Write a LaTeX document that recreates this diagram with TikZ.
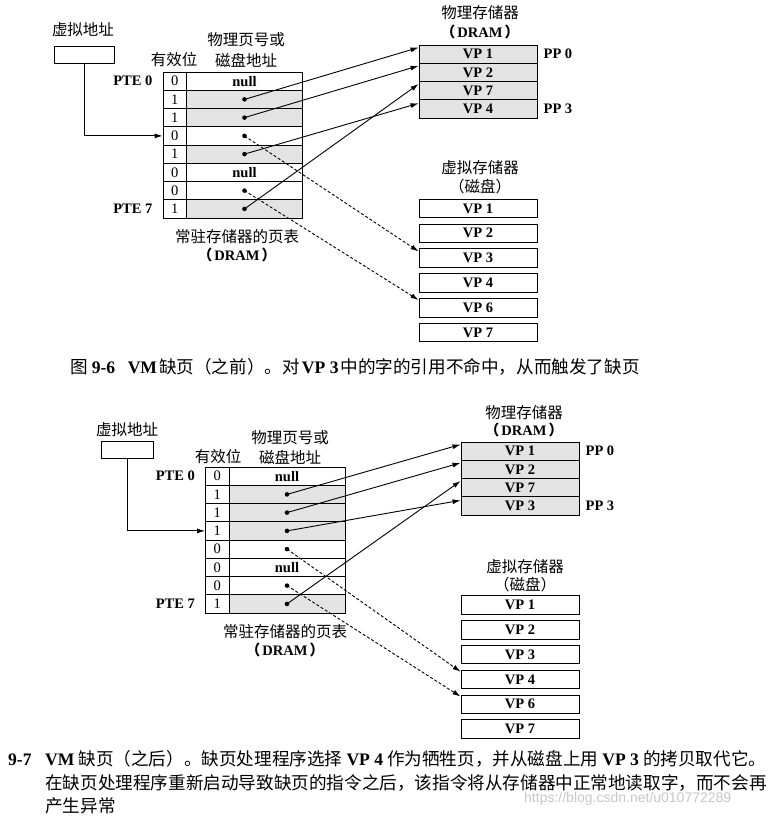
\documentclass[tikz,border=0pt]{standalone}
\usepackage{fontspec}
\setmainfont{Liberation Serif}
\newfontfamily\cjk{Noto Sans CJK SC}
\newfontfamily\wmark{Liberation Sans}
\usetikzlibrary{arrows.meta,positioning}

\newcommand\zh[1]{{\cjk #1}}
\newcommand\dram{\zh{（}\hspace{2pt}DRAM\hspace{2pt}\zh{）}}

\tikzset{
    >={Latex[length=8pt,width=5pt]},
    lbl/.style={inner sep=1pt, font=\cjk\fontsize{15.5}{17}\selectfont},
    lat/.style={inner sep=1pt, font=\bfseries\fontsize{14.5}{16}\selectfont},
    vabox/.style={draw, line width=0.9pt, minimum height=17pt},
    bitcell/.style={draw, line width=0.9pt, minimum width=23.5pt, minimum height=18.25pt, inner sep=0pt, font=\fontsize{14.5}{14.5}\selectfont},
    addrcell/.style={draw, line width=0.9pt, minimum width=116pt, minimum height=18.25pt, inner sep=0pt, font=\bfseries\fontsize{14.5}{14.5}\selectfont},
    pagebox/.style={draw, line width=0.9pt, minimum width=118pt, minimum height=18.25pt, inner sep=0pt, font=\bfseries\fontsize{14.5}{14.5}\selectfont},
    diskbox/.style={pagebox, minimum height=18.5pt},
    grayfill/.style={fill=black!11},
    ptr/.style={->, line width=0.9pt},
    diskptr/.style={ptr, dash pattern=on 3pt off 2pt},
    captext/.style={anchor=west, inner sep=0pt, font=\fontsize{17.6}{20}\selectfont}
}

\begin{document}
\begin{tikzpicture}[x=1pt, y=-1pt]
    \useasboundingbox (0,0) rectangle (768,820);

    % figure 9-6: before the fault
    \node[lbl] (aVAlbl) at (83,30) {虚拟地址};
    \node[vabox, minimum width=60pt] (aVA) at (84,54.5) {};

    \node[lbl] (aValid) at (174,60) {有效位};
    \node[lbl] (aAddr1) at (246,40) {物理页号或};
    \node[lbl] (aAddr2) at (246,60) {磁盘地址};

    \node[bitcell] (aV0) at (174.75,81.1) {0};
    \node[addrcell] (aA0) at (244.5,81.1) {null};
    \node[bitcell] (aV1) at (174.75,99.4) {1};
    \node[addrcell, grayfill] (aA1) at (244.5,99.4) {};
    \node[bitcell] (aV2) at (174.75,117.6) {1};
    \node[addrcell, grayfill] (aA2) at (244.5,117.6) {};
    \node[bitcell] (aV3) at (174.75,135.9) {0};
    \node[addrcell] (aA3) at (244.5,135.9) {};
    \node[bitcell] (aV4) at (174.75,154.1) {1};
    \node[addrcell, grayfill] (aA4) at (244.5,154.1) {};
    \node[bitcell] (aV5) at (174.75,172.4) {0};
    \node[addrcell] (aA5) at (244.5,172.4) {null};
    \node[bitcell] (aV6) at (174.75,190.6) {0};
    \node[addrcell] (aA6) at (244.5,190.6) {};
    \node[bitcell] (aV7) at (174.75,208.9) {1};
    \node[addrcell, grayfill] (aA7) at (244.5,208.9) {};

    \node[lat, left=9pt of aV0] (aPTE0) {PTE 0};
    \node[lat, left=9pt of aV7] (aPTE7) {PTE 7};
    \node[lbl] (aPT1) at (237,237) {常驻存储器的页表};
    \node[lat] (aPT2) at (237,255) {\dram};

    \node[lbl] (aMem1) at (480,13) {物理存储器};
    \node[lat] (aMem2) at (480,32) {\dram};
    \node[pagebox, grayfill] (aP0) at (478,54.1) {VP 1};
    \node[pagebox, grayfill] (aP1) at (478,72.4) {VP 2};
    \node[pagebox, grayfill] (aP2) at (478,90.6) {VP 7};
    \node[pagebox, grayfill] (aP3) at (478,108.9) {VP 4};
    \node[lat, right=5pt of aP0] (aPP0) {PP 0};
    \node[lat, right=5pt of aP3] (aPP3) {PP 3};

    \node[lbl] (aDisk1) at (480,168) {虚拟存储器};
    \node[lbl] (aDisk2) at (480,187) {（磁盘）};
    \node[diskbox] (aD1) at (478,208.5) {VP 1};
    \node[diskbox] (aD2) at (478,233.3) {VP 2};
    \node[diskbox] (aD3) at (478,258.1) {VP 3};
    \node[diskbox] (aD4) at (478,282.9) {VP 4};
    \node[diskbox] (aD6) at (478,307.7) {VP 6};
    \node[diskbox] (aD7) at (478,332.5) {VP 7};

    \draw[ptr] (aVA.south) |- (aV3.west);
    \fill (aA1.center) circle (2.3pt);
    \fill (aA2.center) circle (2.3pt);
    \fill (aA3.center) circle (2.3pt);
    \fill (aA4.center) circle (2.3pt);
    \fill (aA6.center) circle (2.3pt);
    \fill (aA7.center) circle (2.3pt);
    \draw[ptr] (aA1.center) -- ([yshift=-3pt]aP0.north west);
    \draw[ptr] (aA2.center) -- ([yshift=-3pt]aP1.north west);
    \draw[ptr] (aA7.center) -- ([yshift=-3pt]aP2.north west);
    \draw[ptr] (aA4.center) -- ([yshift=-4pt]aP3.north west);
    \draw[diskptr] (aA3.center) -- ([yshift=-3pt]aD3.north west);
    \draw[diskptr] (aA6.center) -- ([yshift=-2pt]aD6.north west);

    \node[captext] (capA) at (70,367) {\zh{图}\hspace{4pt}\makebox[36pt][l]{\textbf{9-6}}\textbf{VM}\hspace{2pt}\zh{缺页（之前）。对}\hspace{2pt}\textbf{VP 3}\hspace{2pt}\zh{中的字的引用不命中，从而触发了缺页}};

    % figure 9-7: after the fault
    \node[lbl] (bVAlbl) at (127,430) {虚拟地址};
    \node[vabox, minimum width=52pt] (bVA) at (127,449.5) {};

    \node[lbl] (bValid) at (218,457) {有效位};
    \node[lbl] (bAddr1) at (290,438) {物理页号或};
    \node[lbl] (bAddr2) at (290,457) {磁盘地址};

    \node[bitcell] (bV0) at (217.25,476.1) {0};
    \node[addrcell] (bA0) at (287,476.1) {null};
    \node[bitcell] (bV1) at (217.25,494.4) {1};
    \node[addrcell, grayfill] (bA1) at (287,494.4) {};
    \node[bitcell] (bV2) at (217.25,512.6) {1};
    \node[addrcell, grayfill] (bA2) at (287,512.6) {};
    \node[bitcell] (bV3) at (217.25,530.9) {1};
    \node[addrcell, grayfill] (bA3) at (287,530.9) {};
    \node[bitcell] (bV4) at (217.25,549.1) {0};
    \node[addrcell] (bA4) at (287,549.1) {};
    \node[bitcell] (bV5) at (217.25,567.4) {0};
    \node[addrcell] (bA5) at (287,567.4) {null};
    \node[bitcell] (bV6) at (217.25,585.6) {0};
    \node[addrcell] (bA6) at (287,585.6) {};
    \node[bitcell] (bV7) at (217.25,603.9) {1};
    \node[addrcell, grayfill] (bA7) at (287,603.9) {};

    \node[lat, left=9pt of bV0] (bPTE0) {PTE 0};
    \node[lat, left=9pt of bV7] (bPTE7) {PTE 7};
    \node[lbl] (bPT1) at (285,632) {常驻存储器的页表};
    \node[lat] (bPT2) at (285,650) {\dram};

    \node[lbl] (bMem1) at (524,413) {物理存储器};
    \node[lat] (bMem2) at (524,430) {\dram};
    \node[pagebox, grayfill] (bP0) at (520,451.1) {VP 1};
    \node[pagebox, grayfill] (bP1) at (520,469.4) {VP 2};
    \node[pagebox, grayfill] (bP2) at (520,487.6) {VP 7};
    \node[pagebox, grayfill] (bP3) at (520,505.9) {VP 3};
    \node[lat, right=5pt of bP0] (bPP0) {PP 0};
    \node[lat, right=5pt of bP3] (bPP3) {PP 3};

    \node[lbl] (bDisk1) at (525,567) {虚拟存储器};
    \node[lbl] (bDisk2) at (525,585) {（磁盘）};
    \node[diskbox] (bD1) at (520,605) {VP 1};
    \node[diskbox] (bD2) at (520,629.8) {VP 2};
    \node[diskbox] (bD3) at (520,654.6) {VP 3};
    \node[diskbox] (bD4) at (520,679.4) {VP 4};
    \node[diskbox] (bD6) at (520,704.2) {VP 6};
    \node[diskbox] (bD7) at (520,729) {VP 7};

    \draw[ptr] (bVA.south) |- (bV3.west);
    \fill (bA1.center) circle (2.3pt);
    \fill (bA2.center) circle (2.3pt);
    \fill (bA3.center) circle (2.3pt);
    \fill (bA4.center) circle (2.3pt);
    \fill (bA6.center) circle (2.3pt);
    \fill (bA7.center) circle (2.3pt);
    \draw[ptr] (bA1.center) -- ([yshift=-3pt]bP0.north west);
    \draw[ptr] (bA2.center) -- ([yshift=-3pt]bP1.north west);
    \draw[ptr] (bA7.center) -- ([yshift=-3pt]bP2.north west);
    \draw[ptr] (bA3.center) -- ([yshift=-4pt]bP3.north west);
    \draw[diskptr] (bA4.center) -- ([yshift=-2pt]bD4.north west);
    \draw[diskptr] (bA6.center) -- ([yshift=-2pt]bD6.north west);

    \node[captext] (capB1) at (8,759) {\makebox[37pt][l]{\textbf{9-7}}\textbf{VM}\hspace{4pt}\zh{缺页（之后）。缺页处理程序选择}\hspace{4pt}\textbf{VP 4}\hspace{4pt}\zh{作为牺牲页，并从磁盘上用}\hspace{4pt}\textbf{VP 3}\hspace{4pt}\zh{的拷贝取代它。}};
    \node[captext] (capB2) at (45,783) {\zh{在缺页处理程序重新启动导致缺页的指令之后，该指令将从存储器中正常地读取字，而不会再}};
    \node[captext] (capB3) at (45,806) {\zh{产生异常}};
    \node[anchor=west, inner sep=0pt, text=black!22, font=\wmark\fontsize{14}{14}\selectfont] (wm) at (524,799) {https://blog.csdn.net/u010772289};
\end{tikzpicture}
\end{document}
